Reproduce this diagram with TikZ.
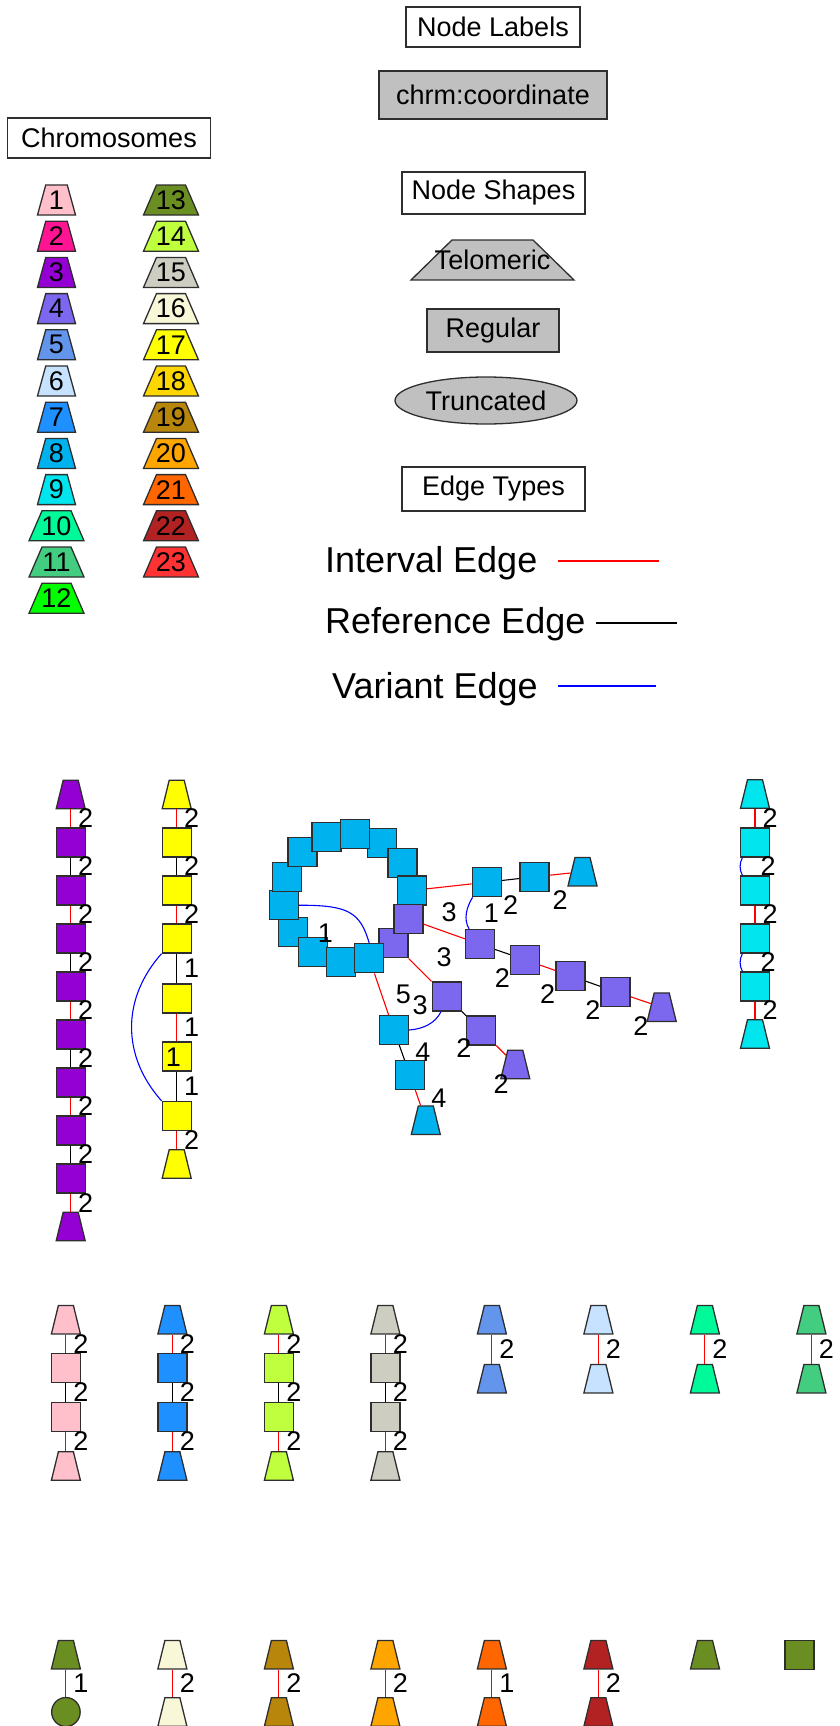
\documentclass[tikz,border=0pt]{standalone}
\usepackage{fontspec}
\setmainfont{Liberation Sans}
\usetikzlibrary{shapes.geometric}

\definecolor{bord}{HTML}{2E2E2E}
\definecolor{shade}{HTML}{C0C0C0}
\definecolor{chr1}{HTML}{FFC0CB}
\definecolor{chr2}{HTML}{FF1493}
\definecolor{chr3}{HTML}{9400D3}
\definecolor{chr4}{HTML}{7B68EE}
\definecolor{chr5}{HTML}{6495ED}
\definecolor{chr6}{HTML}{C6E2FF}
\definecolor{chr7}{HTML}{1E90FF}
\definecolor{chr8}{HTML}{00B2EE}
\definecolor{chr9}{HTML}{00E5EE}
\definecolor{chr10}{HTML}{00FA9A}
\definecolor{chr11}{HTML}{43CD80}
\definecolor{chr12}{HTML}{00FF00}
\definecolor{chr13}{HTML}{6B8E23}
\definecolor{chr14}{HTML}{C0FF3E}
\definecolor{chr15}{HTML}{CDCDC1}
\definecolor{chr16}{HTML}{F8F8D8}
\definecolor{chr17}{HTML}{FFFF00}
\definecolor{chr18}{HTML}{FFD700}
\definecolor{chr19}{HTML}{B8860B}
\definecolor{chr20}{HTML}{FFA500}
\definecolor{chr21}{HTML}{FF6600}
\definecolor{chr22}{HTML}{B22222}
\definecolor{chr23}{HTML}{FF3333}

\newcommand{\lblfont}{\fontsize{27}{30}\selectfont}
\newcommand{\edgefont}{\fontsize{36}{40}\selectfont}

\tikzset{
  box/.style={draw=bord, line width=1.2pt, fill=white, inner sep=0pt, font=\lblfont},
  gbox/.style={box, fill=shade},
  sq/.style={draw=bord, line width=1.3pt, fill=#1, minimum size=29pt, inner sep=0pt},
  telo/.style={trapezium, trapezium left angle=76.2, trapezium right angle=76.2,
    draw=bord, line width=1.3pt, fill=#1, minimum size=0pt,
    inner xsep=7.5pt, inner ysep=14.25pt},
  chrtag/.style={telo=#1, inner xsep=10.75pt, inner ysep=15pt,
    trapezium left angle=74.6, trapezium right angle=74.6},
  chrtagw/.style={chrtag=#1, inner xsep=14.5pt,
    trapezium left angle=66.6, trapezium right angle=66.6},
  trunc/.style={ellipse, draw=bord, line width=1.3pt, fill=#1,
    minimum width=28.5pt, minimum height=29pt, inner sep=0pt},
  ivedge/.style={red, line width=1.1pt},
  rfedge/.style={black, line width=1.1pt},
  vaedge/.style={blue, line width=1.1pt},
  tag/.style={font=\lblfont, text=black, inner sep=0pt},
  elr/.style={tag, midway, xshift=15pt},
  elb/.style={tag, midway, yshift=-26pt},
  edgetxt/.style={font=\edgefont, inner sep=0pt, anchor=base west}
}

\begin{document}
\begin{tikzpicture}[x=1pt,y=-1pt]
\useasboundingbox (0,0) rectangle (840,1726);
\clip (0,0) rectangle (840,1726);

% legend: labels and shapes
\node[box, minimum width=174pt, minimum height=40pt] (nlab) at (493,27) {Node Labels};
\node[gbox, minimum width=228pt, minimum height=48pt] (ncrd) at (493,95) {chrm:coordinate};
\node[box, minimum width=203pt, minimum height=40pt] (chrs) at (109,138) {Chromosomes};
\node[box, minimum width=183pt, minimum height=42pt] (nshp) at (493.5,193) {Node Shapes};
\node[telo=shade, inner xsep=40.5pt, inner ysep=20pt,
  trapezium left angle=44.3, trapezium right angle=44.3,
  label={[tag]center:Telomeric}] (ntel) at (492.5,260) {};
\node[gbox, minimum width=132pt, minimum height=43pt] (nreg) at (493,330.5) {Regular};
\node[trunc=shade, minimum width=182pt, minimum height=47pt, font=\lblfont] (ntrc) at (486,400.5) {Truncated};
\node[box, minimum width=183pt, minimum height=44pt] (etyp) at (493.5,489) {Edge Types};

% legend: edge types
\node[edgetxt] (ivtxt) at (325,572) {Interval Edge};
\node[edgetxt] (rftxt) at (325,633) {Reference Edge};
\node[edgetxt] (vatxt) at (332,698) {Variant Edge};
\coordinate (iv1) at (558,561);
\coordinate (iv2) at (659,561);
\coordinate (rf1) at (596,623);
\coordinate (rf2) at (677,623);
\coordinate (va1) at (558,686);
\coordinate (va2) at (656,686);
\draw[ivedge, line width=2pt] (iv1) -- (iv2);
\draw[rfedge, line width=2pt] (rf1) -- (rf2);
\draw[vaedge, line width=2pt] (va1) -- (va2);

% legend: chromosome colours
\foreach \n in {1,...,9}
  \node[chrtag=chr\n, label={[tag]center:\n}] (lg\n) at (56.5,{200+36.2*(\n-1)}) {};
\foreach \n in {10,11,12}
  \node[chrtagw=chr\n, label={[tag]center:\n}] (lg\n) at (56.5,{200+36.2*(\n-1)}) {};
\foreach \n in {13,...,23}
  \node[chrtagw=chr\n, label={[tag]center:\n}] (lg\n) at (171,{200+36.2*(\n-13)}) {};

% chromosome 3
\node[telo=chr3] (a0) at (70.7,794.5) {};
\foreach \i in {1,...,8}
  \node[sq=chr3] (a\i) at (70.7,{794.5+48*\i}) {};
\node[telo=chr3] (a9) at (70.7,1226.5) {};
\foreach \i in {0,2,4,6,8}{
  \pgfmathtruncatemacro\j{\i+1}
  \draw[ivedge] (a\i) -- (a\j) node[elr] {2};}
\foreach \i in {1,3,5,7}{
  \pgfmathtruncatemacro\j{\i+1}
  \draw[rfedge] (a\i) -- (a\j) node[elr] {2};}

% chromosome 17
\node[telo=chr17] (b0) at (176.7,794.5) {};
\node[sq=chr17] (b1) at (176.7,842.5) {};
\node[sq=chr17] (b2) at (176.7,890.5) {};
\node[sq=chr17] (b3) at (176.7,938.5) {};
\node[sq=chr17] (b4) at (176.7,998.5) {};
\node[sq=chr17] (b5) at (176.7,1056.5) {};
\node[sq=chr17] (b6) at (176.7,1116) {};
\node[telo=chr17] (b7) at (176.7,1164) {};
\draw[ivedge] (b0) -- (b1) node[elr] {2};
\draw[rfedge] (b1) -- (b2) node[elr] {2};
\draw[ivedge] (b2) -- (b3) node[elr] {2};
\draw[rfedge] (b3) -- (b4) node[elr] {1};
\draw[ivedge] (b4) -- (b5) node[elr] {1};
\draw[rfedge] (b5) -- (b6) node[elr] {1};
\draw[ivedge] (b6) -- (b7) node[elr] {2};
\draw[vaedge] (b3.south west) .. controls +(-40,45) and +(-40,-45) .. (b6.north west);
\node[tag] (b5t) at (173.5,1057.5) {1};

% chromosome 9
\node[telo=chr9] (k0) at (755,794) {};
\foreach \i in {1,...,4}
  \node[sq=chr9] (k\i) at (755,{794.5+48*\i}) {};
\node[telo=chr9] (k5) at (755,1034) {};
\foreach \i in {0,2,4}{
  \pgfmathtruncatemacro\j{\i+1}
  \draw[ivedge] (k\i) -- (k\j) node[elr] {2};}
\foreach \i in {1,3}{
  \pgfmathtruncatemacro\j{\i+1}
  \draw[vaedge] ([xshift=2.5pt]k\i.south west) .. controls +(-3,6) and +(-3,-6)
    .. ([xshift=2.5pt]k\j.north west) node[elr, xshift=13pt] {2};}

% chromosome 8 ring and chromosome 4
\foreach \n/\x/\y in {9/293.2/931.7, 8/283.8/905.2, 7/286.8/876.7, 6/302.5/852.2,
    5/326.5/836.7, 3/381.8/843.3, 4/355.2/833.8, 2/402.5/863, 1/411.8/890.5}
  \node[sq=chr8] (r\n) at (\x,\y) {};
\node[sq=chr4] (q2) at (393.5,943.3) {};
\node[sq=chr4] (q1) at (408.5,918.8) {};
\foreach \n/\x/\y in {10/313.2/952.2, 11/340.8/961.7, 12/369.2/958.3}
  \node[sq=chr8] (r\n) at (\x,\y) {};
\node[sq=chr8] (d1) at (486.7,882.2) {};
\node[sq=chr8] (d2) at (534.5,876.8) {};
\node[telo=chr8] (d3) at (582.5,871.7) {};
\node[sq=chr8] (d4) at (393.8,1030) {};
\node[sq=chr8] (d5) at (410,1075) {};
\node[telo=chr8] (d6) at (425.8,1120.2) {};
\node[sq=chr4] (q3) at (480,944.2) {};
\node[sq=chr4] (q4) at (525,959.8) {};
\node[sq=chr4] (q5) at (570.5,975.8) {};
\node[sq=chr4] (q6) at (615.5,991.7) {};
\node[telo=chr4] (q7) at (661.7,1007.2) {};
\node[sq=chr4] (q8) at (446.7,996.5) {};
\node[sq=chr4] (q9) at (481.2,1030.5) {};
\node[telo=chr4] (q10) at (515.3,1064.5) {};

\draw[vaedge] (r8.east) .. controls +(48,0) and +(-9,-32) .. (r12.north);
\draw[ivedge] (r1) -- (d1) node[elb] {3};
\draw[rfedge] (d1) -- (d2) node[elb] {2};
\draw[ivedge] (d2) -- (d3) node[elb] {2};
\draw[vaedge] ([xshift=1pt]d1.south west) .. controls +(-6,10) and +(-6,-10)
  .. ([xshift=4.3pt]q3.north west) node[elr, xshift=10pt] {1};
\draw[ivedge] (q1) -- (q3) node[elb] {3};
\draw[rfedge] (q3) -- (q4) node[elb] {2};
\draw[ivedge] (q4) -- (q5) node[elb] {2};
\draw[rfedge] (q5) -- (q6) node[elb] {2};
\draw[ivedge] (q6) -- (q7) node[elb] {2};
\draw[ivedge] (q2) -- (q8) node[elb, yshift=-9pt] {3};
\draw[rfedge] (q8) -- (q9) node[elb, yshift=-9pt] {2};
\draw[ivedge] (q9) -- (q10) node[elb, yshift=-8pt] {2};
\draw[ivedge] (r12) -- (d4) node[elr, xshift=7pt] {5};
\draw[rfedge] (d4) -- (d5) node[elr, xshift=6pt] {4};
\draw[ivedge] (d5) -- (d6) node[elr, xshift=6pt] {4};
\draw[vaedge] (d4.east) .. controls +(14,-1) and +(-6,12) .. ([xshift=-5.7pt]q8.south);
\node[tag] (r9t) at (325.5,933.3) {1};

% chromosomes 1, 7, 14, 15
\foreach \k/\x in {1/65.9, 7/172.4, 14/278.9, 15/385.4}{
  \node[telo=chr\k] (n\k a) at (\x,1319.7) {};
  \node[sq=chr\k] (n\k b) at (\x,1368.3) {};
  \node[sq=chr\k] (n\k c) at (\x,1416.7) {};
  \node[telo=chr\k] (n\k d) at (\x,1466) {};
  \draw[ivedge] (n\k a) -- (n\k b) node[elr] {2};
  \draw[rfedge] (n\k b) -- (n\k c) node[elr] {2};
  \draw[ivedge] (n\k c) -- (n\k d) node[elr] {2};}

% chromosomes 5, 6, 10, 11
\foreach \k/\x in {5/491.9, 6/598.4, 10/704.9, 11/811.4}{
  \node[telo=chr\k] (n\k a) at (\x,1319.7) {};
  \node[telo=chr\k] (n\k b) at (\x,1378.7) {};
  \draw[ivedge] (n\k a) -- (n\k b) node[elr] {2};}

% chromosomes 13, 16, 19, 20, 21, 22
\node[telo=chr13] (o13a) at (65.9,1654.7) {};
\node[trunc=chr13] (o13b) at (65.9,1712) {};
\draw[ivedge] (o13a) -- (o13b) node[elr] {1};
\foreach \k/\x/\w in {16/172.4/2, 19/278.9/2, 20/385.4/2, 21/491.9/1, 22/598.4/2}{
  \node[telo=chr\k] (o\k a) at (\x,1654.7) {};
  \node[telo=chr\k] (o\k b) at (\x,1712) {};
  \draw[ivedge] (o\k a) -- (o\k b) node[elr] {\w};}
\node[telo=chr13] (o13c) at (705,1654.7) {};
\node[sq=chr13] (o13d) at (799.5,1654.7) {};
\end{tikzpicture}
\end{document}
